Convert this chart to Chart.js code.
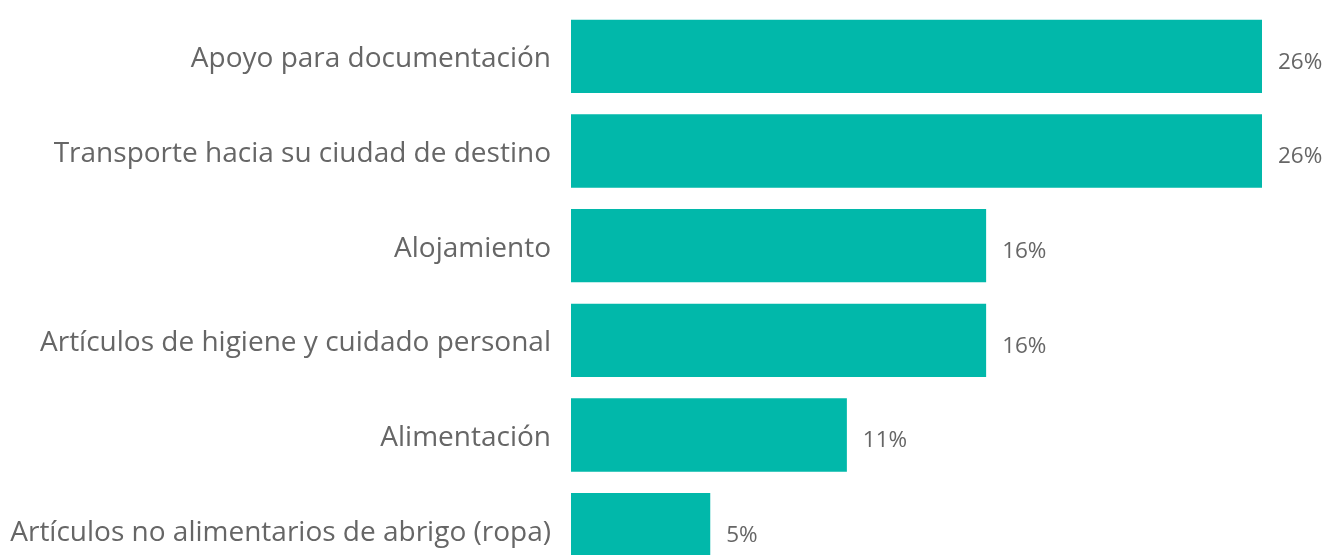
<!DOCTYPE html>
<html>
<head>
<meta charset="utf-8">
<script src="https://cdn.jsdelivr.net/npm/chart.js@4"></script>
<style>
  html, body { margin: 0; padding: 0; background: #fff; overflow: hidden; }
  #wrap { position: relative; width: 1325px; height: 580px; }
</style>
</head>
<body>
<div id="wrap"><canvas id="chart"></canvas></div>
<script>
// categories and shares (5,5,3,3,2,1 out of 19 answers)
const categories = [
  "Apoyo para documentación",
  "Transporte hacia su ciudad de destino",
  "Alojamiento",
  "Artículos de higiene y cuidado personal",
  "Alimentación",
  "Artículos no alimentarios de abrigo (ropa)"
];
const shares = [26.3, 26.3, 15.8, 15.8, 10.5, 5.3];
const shareLabels = ["26%", "26%", "16%", "16%", "11%", "5%"];

const teal = "#01B8AA";
const grey = "#666666";
const fontFamily = "'Open Sans', 'Noto Sans', sans-serif";

// value labels just right of each bar
const valueLabels = {
  id: "valueLabels",
  afterDatasetsDraw(chart) {
    const { ctx } = chart;
    const meta = chart.getDatasetMeta(0);
    ctx.save();
    ctx.fillStyle = grey;
    ctx.font = "22.5px " + fontFamily;
    ctx.textAlign = "left";
    ctx.textBaseline = "middle";
    meta.data.forEach((bar, i) => {
      ctx.fillText(shareLabels[i], bar.x + 16, bar.y + 6);
    });
    ctx.restore();
  }
};

new Chart(document.getElementById("chart"), {
  type: "bar",
  data: {
    labels: categories,
    datasets: [{
      data: shares,
      backgroundColor: teal,
      categoryPercentage: 0.775,
      barPercentage: 1
    }]
  },
  options: {
    indexAxis: "y",
    responsive: true,
    maintainAspectRatio: false,
    animation: false,
    layout: { padding: { top: 9, bottom: 3, left: 0, right: 63 } },
    plugins: { legend: { display: false }, tooltip: { enabled: false } },
    scales: {
      x: { display: false, min: 0, max: 26.3 },
      y: {
        grid: { display: false, drawTicks: false },
        border: { display: false },
        afterFit(scale) {
          scale.width = 571;
          scale.paddingTop = 0;
          scale.paddingBottom = 0;
        },
        ticks: {
          color: grey,
          padding: 20,
          labelOffset: 3,
          font: { family: fontFamily, size: 28 }
        }
      }
    }
  },
  plugins: [valueLabels]
});
</script>
</body>
</html>
